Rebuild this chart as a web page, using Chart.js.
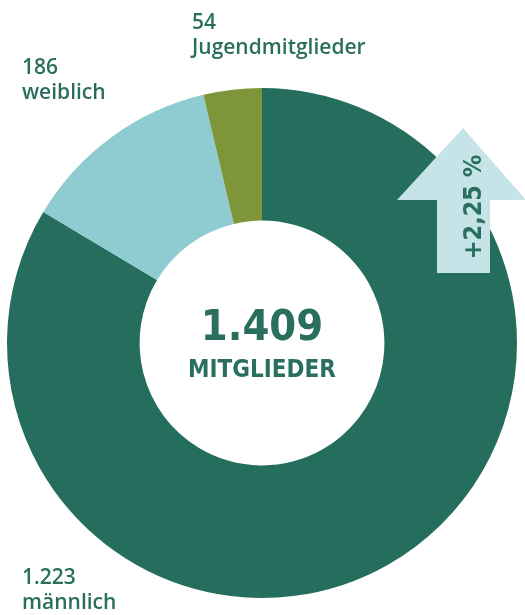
<!DOCTYPE html>
<html lang="de">
<head>
    <meta charset="UTF-8">
    <title>Mitglieder</title>
    <style>
        body { margin: 0; background: #fff; }
        #chart { width: 525px; height: 615px; position: relative; }
    </style>
</head>
<body>
    <div id="chart"><canvas id="c"></canvas></div>
<script src="https://cdn.jsdelivr.net/npm/chart.js@4/dist/chart.umd.min.js"></script>
<script>
    const labels = ['männlich', 'weiblich', 'Jugendmitglieder'];
    const values = [1223, 186, 54];
    const valueTexts = ['1.223', '186', '54'];
    const colors = ['#256e5e', '#8fccd1', '#7e953a'];
    const total = '1.409';
    const totalLabel = 'MITGLIEDER';
    const change = '+2,25 %';

    const textColor = '#2a6e5e';

    const overlay = {
        id: 'overlay',
        afterDraw(chart) {
            const ctx = chart.ctx;
            const meta = chart.getDatasetMeta(0);
            const arc = meta.data[0];
            const cx = arc.x, cy = arc.y;
            ctx.save();

            // center text
            ctx.fillStyle = textColor;
            ctx.textAlign = 'center';
            ctx.textBaseline = 'alphabetic';
            ctx.font = 'bold 43px "DejaVu Sans Condensed", "DejaVu Sans"';
            ctx.fillText(total, cx, cy - 3);
            ctx.font = 'bold 24px "DejaVu Sans Condensed", "DejaVu Sans"';
            ctx.fillText(totalLabel, cx, cy + 34);

            // segment labels
            ctx.textAlign = 'left';
            const pos = [[22, 584], [22, 74], [192, 29]];
            pos.forEach((p, i) => {
                ctx.font = '600 21px "Open Sans"';
                ctx.fillText(valueTexts[i], p[0], p[1]);
                ctx.fillText(labels[i], p[0], p[1] + 25);
            });

            // arrow
            ctx.fillStyle = '#c6e4e7';
            ctx.beginPath();
            ctx.moveTo(463, 128);
            ctx.lineTo(526, 200);
            ctx.lineTo(490, 200);
            ctx.lineTo(490, 273);
            ctx.lineTo(437, 273);
            ctx.lineTo(437, 200);
            ctx.lineTo(397, 200);
            ctx.closePath();
            ctx.fill();

            ctx.translate(474, 207);
            ctx.rotate(-Math.PI / 2);
            ctx.fillStyle = textColor;
            ctx.textAlign = 'center';
            ctx.textBaseline = 'middle';
            ctx.font = 'bold 25px "DejaVu Sans Condensed", "DejaVu Sans"';
            ctx.fillText(change, 0, 0);
            ctx.restore();
        }
    };

    new Chart(document.getElementById('c'), {
        type: 'doughnut',
        data: {
            labels: labels,
            datasets: [{
                data: values,
                backgroundColor: colors,
                borderWidth: 0
            }]
        },
        options: {
            responsive: true,
            maintainAspectRatio: false,
            animation: false,
            cutout: '48%',
            layout: { padding: { left: 7, right: 8, top: 88, bottom: 17 } },
            plugins: {
                legend: { display: false },
                tooltip: { enabled: false }
            }
        },
        plugins: [overlay]
    });
</script>
</body>
</html>
